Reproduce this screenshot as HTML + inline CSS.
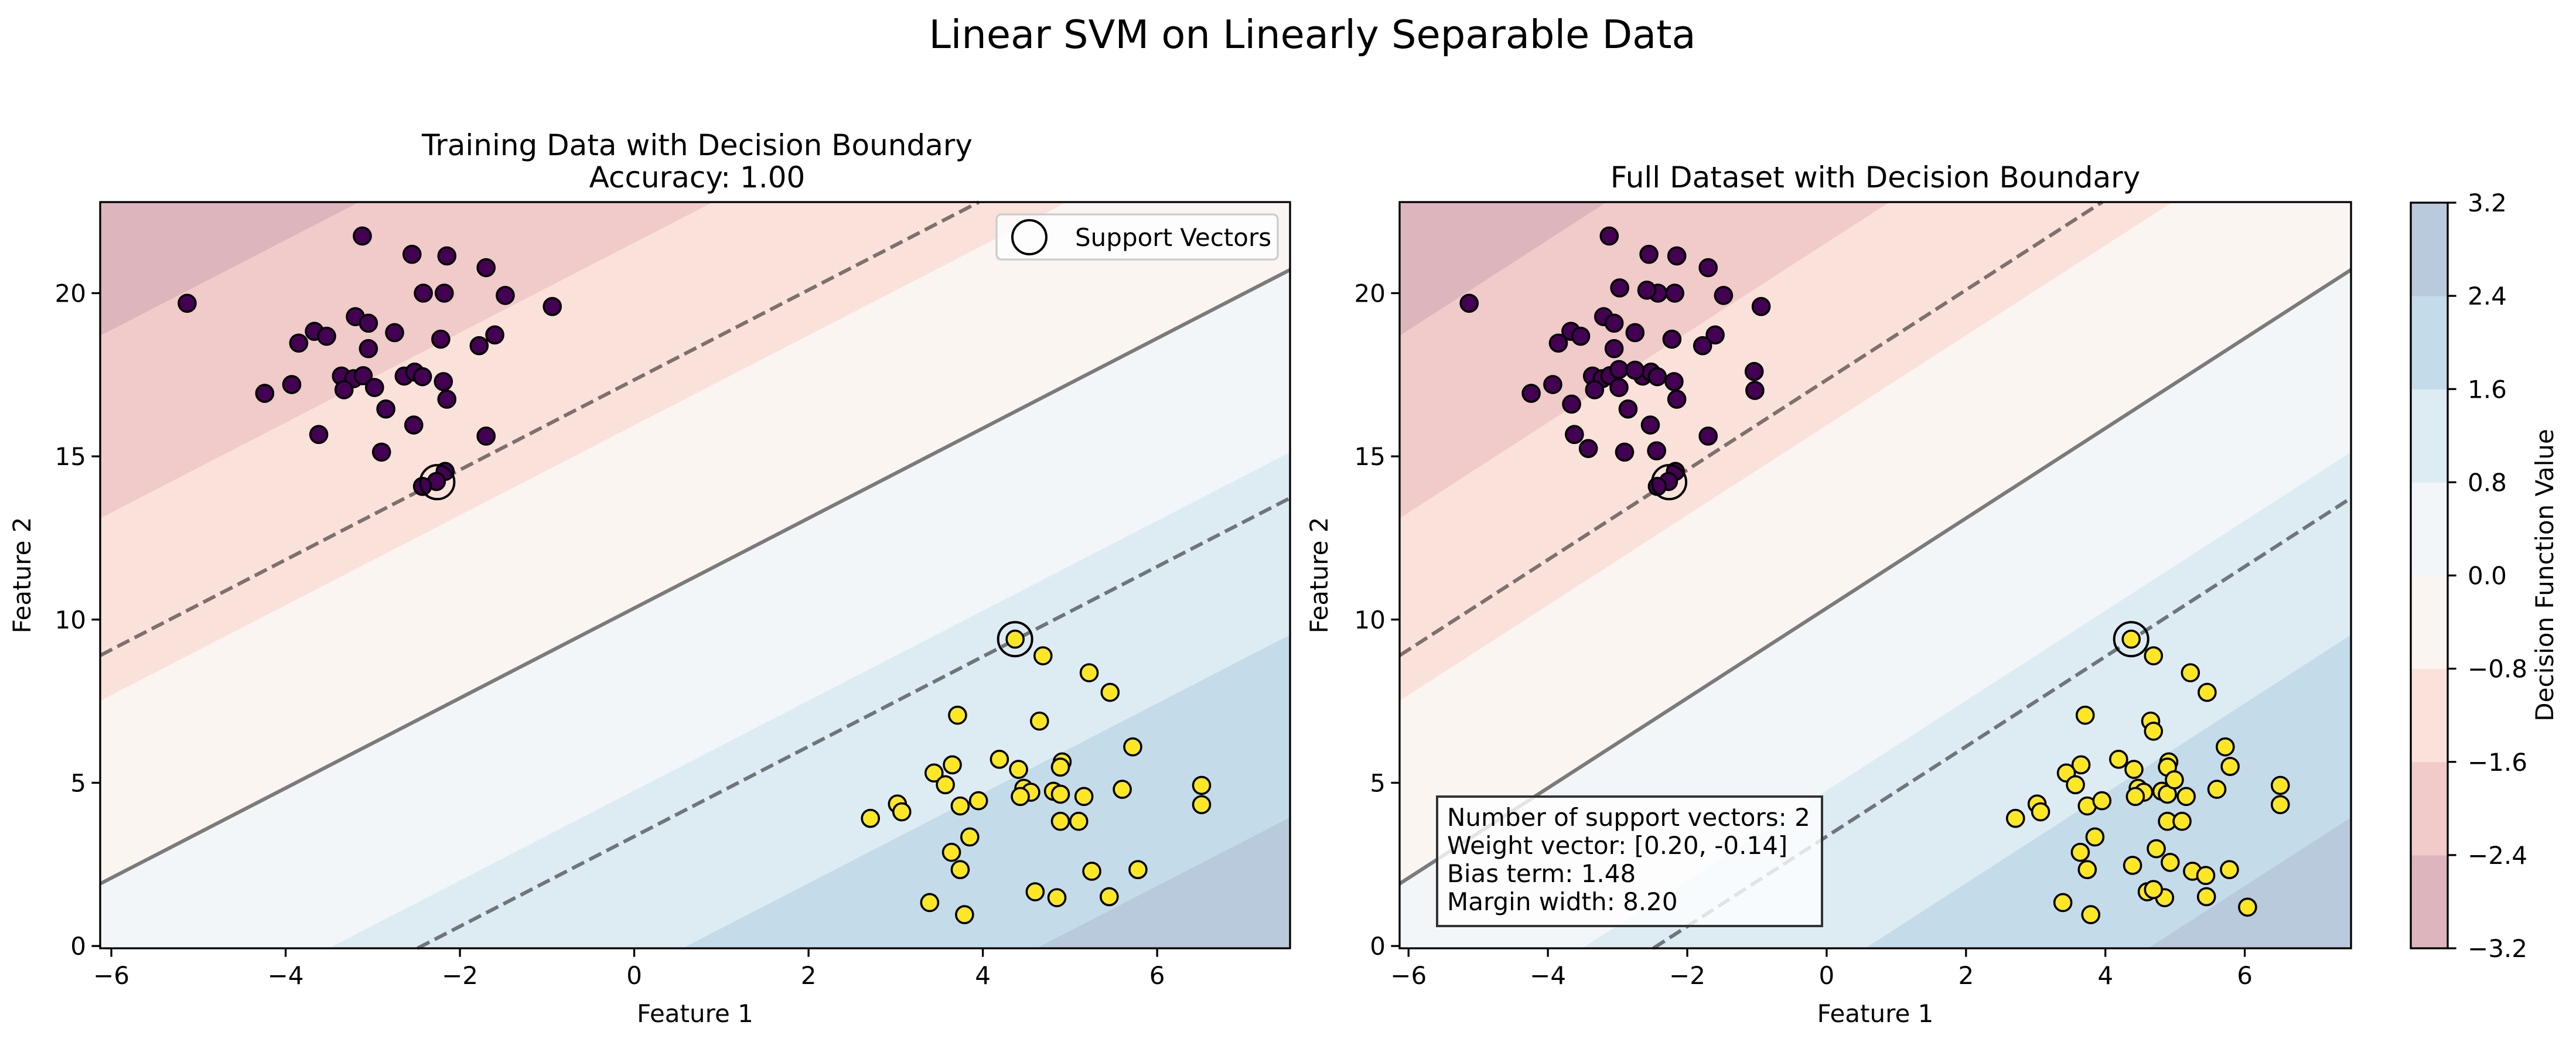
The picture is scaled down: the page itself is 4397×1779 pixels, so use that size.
<!DOCTYPE html>
<html><head><meta charset="utf-8"><style>
html,body{margin:0;padding:0;background:#fff;width:4397px;height:1779px;overflow:hidden;}
svg{display:block;font-family:"DejaVu Sans","Liberation Sans",sans-serif;}
</style></head>
<body>
<svg id="fig" xmlns="http://www.w3.org/2000/svg" width="4397" height="1779" viewBox="0 0 4397 1779">
<rect width="4397" height="1779" fill="#fff"/>
<text x="2240" y="82" font-size="67" text-anchor="middle">Linear SVM on Linearly Separable Data</text>
<text x="1190" y="265" font-size="50" text-anchor="middle">Training Data with Decision Boundary</text>
<text x="1190" y="320" font-size="50" text-anchor="middle">Accuracy: 1.00</text>
<text x="3201" y="320" font-size="50" text-anchor="middle">Full Dataset with Decision Boundary</text>
<g id="ax1"></g>
<g id="ax2"></g>
<g id="cbar"></g>
</svg>
<script>
// ---- model / data ----
const weights = [0.197, -0.143];
const bias = 1.48;
const levels = [-3.2, -2.4, -1.6, -0.8, 0.0, 0.8, 1.6, 2.4, 3.2];
const bandColors = ["#dcb5bd","#f0cbc9","#fae2da","#fbf5f2","#f2f6f9","#ddecf3","#c4dbea","#b8cadb"];
const xTicks = [-6, -4, -2, 0, 2, 4, 6];
const yTicks = [0, 5, 10, 15, 20];
const cbarTickLabels = ["−3.2","−2.4","−1.6","−0.8","0.0","0.8","1.6","2.4","3.2"];
const xlim = [-6.128, 7.525];
const ylim = [-0.07, 22.79];

const trainClass0X = [-5.13,-3.12,-2.55,-2.15,-1.70,-2.42,-2.18,-1.48,-0.94,-3.20,-3.05,-2.75,-3.67,-3.53,-3.85,-3.05,-2.22,-1.60,-1.78,-3.93,-4.24,-3.36,-3.22,-3.11,-3.33,-2.98,-2.64,-2.52,-2.43,-2.19,-2.15,-2.85,-2.53,-3.62,-1.70,-2.90,-2.17,-2.27,-2.43];
const trainClass0Y = [19.69,21.75,21.19,21.14,20.78,20.0,20.0,19.93,19.59,19.28,19.08,18.79,18.83,18.68,18.47,18.30,18.59,18.72,18.39,17.20,16.93,17.46,17.38,17.47,17.04,17.11,17.46,17.58,17.44,17.29,16.75,16.45,15.96,15.67,15.62,15.13,14.54,14.23,14.08];
const trainClass1X = [4.37,4.69,5.22,5.46,3.71,4.65,5.72,4.19,3.65,4.91,4.89,3.44,4.41,3.57,4.47,4.55,4.81,4.89,5.16,5.60,4.43,6.51,6.51,3.02,3.07,2.71,3.74,3.95,4.89,5.10,3.85,3.64,3.74,5.25,5.78,3.39,3.79,4.60,4.85,5.45];
const trainClass1Y = [9.40,8.89,8.37,7.77,7.07,6.89,6.10,5.72,5.55,5.64,5.48,5.30,5.41,4.94,4.83,4.71,4.74,4.65,4.58,4.80,4.58,4.92,4.33,4.35,4.11,3.91,4.29,4.45,3.82,3.82,3.34,2.87,2.34,2.29,2.34,1.33,0.96,1.66,1.48,1.51];
const testClass0X = [-2.58,-2.97,-3.66,-2.98,-2.75,-3.42,-2.44,-1.04,-1.03];
const testClass0Y = [20.09,20.16,16.60,17.66,17.64,15.24,15.17,17.60,17.02];
const testClass1X = [4.69,5.79,4.99,4.73,4.39,4.93,5.44,4.69,6.04];
const testClass1Y = [6.58,5.50,5.09,2.98,2.47,2.56,2.16,1.73,1.19];
const supportX = [-2.26, 4.37];
const supportY = [14.21, 9.40];

const NS = "http://www.w3.org/2000/svg";
function mk(tag, attrs, parent){ const e=document.createElementNS(NS,tag); for(const k in attrs) e.setAttribute(k,attrs[k]); if(parent) parent.appendChild(e); return e; }
function makeAxes(L,R,T,B){
  return {L,R,T,B,
    sx:v=>L+(v-xlim[0])/(xlim[1]-xlim[0])*(R-L),
    sy:v=>B-(v-ylim[0])/(ylim[1]-ylim[0])*(B-T)};
}
function lineY(x, f){ return (f - bias - weights[0]*x)/weights[1]; }

// Sutherland-Hodgman clipping in data space
function clipPoly(pts){
  const edges=[
    [p=>p[0]>=xlim[0], (a,b)=>{const t=(xlim[0]-a[0])/(b[0]-a[0]);return [xlim[0],a[1]+t*(b[1]-a[1])];}],
    [p=>p[0]<=xlim[1], (a,b)=>{const t=(xlim[1]-a[0])/(b[0]-a[0]);return [xlim[1],a[1]+t*(b[1]-a[1])];}],
    [p=>p[1]>=ylim[0], (a,b)=>{const t=(ylim[0]-a[1])/(b[1]-a[1]);return [a[0]+t*(b[0]-a[0]),ylim[0]];}],
    [p=>p[1]<=ylim[1], (a,b)=>{const t=(ylim[1]-a[1])/(b[1]-a[1]);return [a[0]+t*(b[0]-a[0]),ylim[1]];}]
  ];
  let out=pts;
  edges.forEach(([inside,inter])=>{
    const inp=out; out=[];
    for(let i=0;i<inp.length;i++){
      const cur=inp[i], prev=inp[(i+inp.length-1)%inp.length];
      if(inside(cur)){ if(!inside(prev)) out.push(inter(prev,cur)); out.push(cur); }
      else if(inside(prev)) out.push(inter(prev,cur));
    }
  });
  return out;
}
// Liang-Barsky segment clipping
function clipSeg(a,b){
  let t0=0,t1=1; const dx=b[0]-a[0], dy=b[1]-a[1];
  const p=[-dx,dx,-dy,dy], q=[a[0]-xlim[0],xlim[1]-a[0],a[1]-ylim[0],ylim[1]-a[1]];
  for(let i=0;i<4;i++){
    if(p[i]===0){ if(q[i]<0) return null; continue; }
    const r=q[i]/p[i];
    if(p[i]<0){ if(r>t1) return null; if(r>t0) t0=r; } else { if(r<t0) return null; if(r<t1) t1=r; }
  }
  return [[a[0]+t0*dx,a[1]+t0*dy],[a[0]+t1*dx,a[1]+t1*dy]];
}

function drawPanel(g, ax, c0x, c0y, c1x, c1y, withLegend, withBox, ylabX){
  const cg = mk('g',{},g);
  const xa=xlim[0]-1, xb=xlim[1]+1;
  for(let i=0;i<bandColors.length;i++){
    const lo=levels[i], hi=levels[i+1];
    const poly=clipPoly([[xa,lineY(xa,lo)],[xb,lineY(xb,lo)],[xb,lineY(xb,hi)],[xa,lineY(xa,hi)]]);
    if(poly.length<3) continue;
    const p = mk('polygon',{points:poly.map(q=>ax.sx(q[0])+','+ax.sy(q[1])).join(' '),fill:bandColors[i],stroke:bandColors[i],'stroke-width':0.6},cg);
    
    
  }
  const margins=[-1,0,1];
  margins.forEach(f=>{
    const s=clipSeg([xa,lineY(xa,f)],[xb,lineY(xb,f)]);
    if(!s) return;
    const l = mk('line',{x1:ax.sx(s[0][0]),y1:ax.sy(s[0][1]),x2:ax.sx(s[1][0]),y2:ax.sy(s[1][1]),
      stroke:'#000','stroke-opacity':0.5,'stroke-width':6.2,'stroke-dasharray':f===0?'none':'23 10'},cg);
    
    
  });
  const pts = (xs,ys,fill,name)=>{
    for(let i=0;i<xs.length;i++){
      const c=mk('circle',{cx:ax.sx(xs[i]),cy:ax.sy(ys[i]),r:14.5,fill:fill,stroke:'#000','stroke-width':3.6},cg);
      
      
    }
  };
  pts(c0x,c0y,'#440154','class-0-point');
  pts(c1x,c1y,'#fde725','class-1-point');
  for(let i=0;i<supportX.length;i++){
    const c=mk('circle',{cx:ax.sx(supportX[i]),cy:ax.sy(supportY[i]),r:29,fill:'none',stroke:'#000','stroke-width':4},cg);
    
    
  }
  const fr=mk('rect',{x:ax.L,y:ax.T,width:ax.R-ax.L,height:ax.B-ax.T,fill:'none',stroke:'#000','stroke-width':3.3},g);
  
  
  xTicks.forEach(v=>{
    const x=ax.sx(v);
    mk('line',{x1:x,y1:ax.B,x2:x,y2:ax.B+14.6,stroke:'#000','stroke-width':3.3},g);
    const t=mk('text',{x:x,y:ax.B+61,'font-size':42,'text-anchor':'middle'},g);
    t.textContent = v<0?'−'+Math.abs(v):String(v);
    
    
  });
  yTicks.forEach(v=>{
    const y=ax.sy(v);
    mk('line',{x1:ax.L-14.6,y1:y,x2:ax.L,y2:y,stroke:'#000','stroke-width':3.3},g);
    const t=mk('text',{x:ax.L-24,y:y+15,'font-size':42,'text-anchor':'end'},g);
    t.textContent=String(v);
    
    
  });
  const xl=mk('text',{x:(ax.L+ax.R)/2,y:1745,'font-size':42,'text-anchor':'middle'},g);
  xl.textContent='Feature 1';
  
  
  const yc=(ax.T+ax.B)/2;
  const yl=mk('text',{x:ylabX,y:yc,'font-size':42,'text-anchor':'middle',transform:'rotate(-90 '+ylabX+' '+yc+')'},g);
  yl.textContent='Feature 2';
  
  
  if(withLegend){
    const lg=mk('g',{},g);
    
    
    mk('rect',{x:1701,y:366,width:480,height:77,rx:8,fill:'#fff','fill-opacity':0.8,stroke:'#cccccc','stroke-width':3.3},lg);
    mk('circle',{cx:1757,cy:405,r:29,fill:'none',stroke:'#000','stroke-width':4},lg);
    const lt=mk('text',{x:1835,y:420,'font-size':42},lg);
    lt.textContent='Support Vectors';
    
    
  }
  if(withBox){
    const bg=mk('g',{},g);
    
    
    mk('rect',{x:2453,y:1360,width:657,height:221,fill:'#fff','fill-opacity':0.8,stroke:'#333','stroke-width':4},bg);
    const lines=['Number of support vectors: 2','Weight vector: [0.20, -0.14]','Bias term: 1.48','Margin width: 8.20'];
    lines.forEach((s,i)=>{
      const t=mk('text',{x:2470,y:1410+i*48,'font-size':42},bg);
      t.textContent=s;
      
      
    });
  }
}

const ax1=makeAxes(171,2202,345,1619);
const ax2=makeAxes(2389,4013,345,1619);
drawPanel(document.getElementById('ax1'),ax1,trainClass0X,trainClass0Y,trainClass1X,trainClass1Y,true,false,52);
drawPanel(document.getElementById('ax2'),ax2,trainClass0X.concat(testClass0X),trainClass0Y.concat(testClass0Y),trainClass1X.concat(testClass1X),trainClass1Y.concat(testClass1Y),false,true,2266);

const cb=document.getElementById('cbar');
const cL=4115,cR=4178,cT=346,cB=1619;
const cy=v=>cB-(v-levels[0])/(levels[levels.length-1]-levels[0])*(cB-cT);
for(let i=0;i<bandColors.length;i++){
  const r=mk('rect',{x:cL,y:cy(levels[i+1]),width:cR-cL,height:cy(levels[i])-cy(levels[i+1])+0.5,fill:bandColors[i]},cb);
  
  
}
mk('rect',{x:cL,y:cT,width:cR-cL,height:cB-cT,fill:'none',stroke:'#000','stroke-width':3.3},cb);
levels.forEach((v,i)=>{
  const y=cy(v);
  mk('line',{x1:cR,y1:y,x2:cR+14.6,y2:y,stroke:'#000','stroke-width':3.3},cb);
  const t=mk('text',{x:4212,y:y+15,'font-size':42},cb);
  t.textContent=cbarTickLabels[i];
  
  
});
const cl=mk('text',{x:4358,y:982,'font-size':42,'text-anchor':'middle',transform:'rotate(-90 4358 982)'},cb);
cl.textContent='Decision Function Value';


</script>
</body></html>
